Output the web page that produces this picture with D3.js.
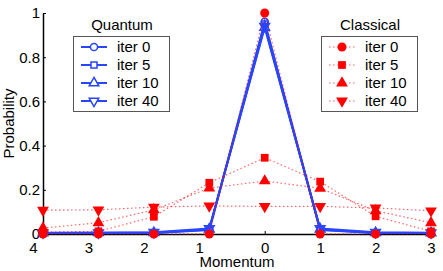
<!DOCTYPE html>
<html>
<head>
<meta charset="utf-8">
<script src="https://cdn.jsdelivr.net/npm/d3@7"></script>
<style>
  body { margin: 0; background: #fff; }
  text { font-family: "Liberation Sans", Arial, sans-serif; font-size: 15px; fill: #000; }
</style>
</head>
<body>
<svg id="chart" width="443" height="271"></svg>
<script>
// momentum values on the x axis
var momentum = [-4, -3, -2, -1, 0, 1, 2, 3];
var xTickLabels = ["4", "3", "2", "1", "0", "1", "2", "3"];
var yTicks = [0, 0.2, 0.4, 0.6, 0.8, 1];
var iterNames = ["iter 0", "iter 5", "iter 10", "iter 40"];

// quantum walk probabilities
var quantum0 = [0.004, 0.004, 0.004, 0.02, 0.96, 0.02, 0.004, 0.004];
var quantum5 = [0.004, 0.005, 0.005, 0.018, 0.95, 0.018, 0.005, 0.005];
var quantum10 = [0.005, 0.006, 0.006, 0.022, 0.935, 0.022, 0.006, 0.005];
var quantum40 = [0.006, 0.006, 0.008, 0.025, 0.94, 0.025, 0.008, 0.006];

// classical walk probabilities
var classical0 = [0, 0, 0, 0, 1, 0, 0, 0];
var classical5 = [0.008, 0.012, 0.078, 0.232, 0.345, 0.237, 0.08, 0.012];
var classical10 = [0.027, 0.051, 0.109, 0.208, 0.24, 0.207, 0.105, 0.051];
var classical40 = [0.108, 0.109, 0.122, 0.127, 0.125, 0.125, 0.118, 0.105];

var quantumSeries = [quantum0, quantum5, quantum10, quantum40];
var classicalSeries = [classical0, classical5, classical10, classical40];

var blue = "#2846ff";
var red = "#ff0000";

var svg = d3.select("#chart");

var x = d3.scaleLinear().domain([-4, 3]).range([43, 431]);
var y = d3.scaleLinear().domain([0, 1]).range([234, 13]);

// marker shapes: circle, square, triangle up, triangle down
var shapes = [
    { type: d3.symbolCircle, size: 64, rot: 0 },
    { type: d3.symbolSquare, size: 60, rot: 0 },
    { type: d3.symbolTriangle, size: 60, rot: 0 },
    { type: d3.symbolTriangle, size: 60, rot: 180 }
];
var openShapes = [
    { type: d3.symbolCircle, size: 40, rot: 0 },
    { type: d3.symbolSquare, size: 36, rot: 0 },
    { type: d3.symbolTriangle, size: 40, rot: 0 },
    { type: d3.symbolTriangle, size: 40, rot: 180 }
];

var line = d3.line()
    .x(function(d, i) { return x(momentum[i]); })
    .y(function(d) { return y(d); });

// axes
var xAxis = svg.append("g").attr("transform", "translate(0," + y(0) + ")")
    .call(d3.axisBottom(x).tickValues(momentum).tickSizeInner(-3).tickSizeOuter(0).tickFormat(function(d, i) { return xTickLabels[i]; }));
xAxis.select(".domain").attr("stroke", "#000").attr("stroke-width", 1.5);
xAxis.selectAll(".tick text")
    .attr("y", 8)
    .attr("dx", function(d) { return d < 0 ? -10 : 0; })
    .style("font-size", "15px");

var yAxis = svg.append("g").attr("transform", "translate(" + x(-4) + ",0)")
    .call(d3.axisLeft(y).tickValues(yTicks).tickSizeInner(-3).tickSizeOuter(0).tickFormat(d3.format("")));
yAxis.select(".domain").attr("stroke", "#000").attr("stroke-width", 1.5);
yAxis.selectAll(".tick text").attr("x", -3).style("font-size", "15px");
svg.selectAll(".tick line").attr("stroke", "#000");

svg.append("text").attr("x", (x(-4) + x(3)) / 2).attr("y", 267)
    .attr("text-anchor", "middle").text("Momentum");
svg.append("text").attr("transform", "translate(14," + (y(0) + y(1)) / 2 + ") rotate(-90)")
    .attr("text-anchor", "middle").text("Probability");

// quantum lines
quantumSeries.forEach(function(vals, k) {
    svg.append("path").datum(vals)
        .attr("d", line)
        .attr("fill", "none")
        .attr("stroke", blue)
        .attr("stroke-width", 2);
    svg.selectAll(".qm" + k).data(vals).join("path")
        .attr("class", "qm" + k)
        .attr("d", d3.symbol().type(openShapes[k].type).size(openShapes[k].size))
        .attr("transform", function(d, i) { return "translate(" + x(momentum[i]) + "," + y(d) + ") rotate(" + openShapes[k].rot + ")"; })
        .attr("fill", "none")
        .attr("stroke", blue)
        .attr("stroke-width", 1.5);
});

// classical lines
classicalSeries.forEach(function(vals, k) {
    svg.append("path").datum(vals)
        .attr("d", line)
        .attr("fill", "none")
        .attr("stroke", red)
        .attr("stroke-opacity", 0.6)
        .attr("stroke-width", 1.2)
        .attr("stroke-dasharray", "1.5,2.5");
    svg.selectAll(".cm" + k).data(vals).join("path")
        .attr("class", "cm" + k)
        .attr("d", d3.symbol().type(shapes[k].type).size(shapes[k].size))
        .attr("transform", function(d, i) { return "translate(" + x(momentum[i]) + "," + y(d) + ") rotate(" + shapes[k].rot + ")"; })
        .attr("fill", red);
});

// legends
function drawLegend(left, title, color, dashed, markerSet, filled) {
    var g = svg.append("g").attr("transform", "translate(" + left + ",36)");
    g.append("rect").attr("x", 0.5).attr("y", 0.5).attr("width", 96).attr("height", 75)
        .attr("fill", "#fff").attr("stroke", "#555").attr("stroke-width", 1);
    g.append("text").attr("x", 49).attr("y", -6).attr("text-anchor", "middle").text(title);
    iterNames.forEach(function(name, k) {
        var cy = 11 + k * 18;
        g.append("line").attr("x1", 8).attr("x2", 34).attr("y1", cy).attr("y2", cy)
            .attr("stroke", color)
            .attr("stroke-width", dashed ? 1.2 : 2)
            .attr("stroke-opacity", dashed ? 0.6 : 1)
            .attr("stroke-dasharray", dashed ? "1.5,2.5" : null);
        g.append("path")
            .attr("d", d3.symbol().type(markerSet[k].type).size(markerSet[k].size))
            .attr("transform", "translate(21," + cy + ") rotate(" + markerSet[k].rot + ")")
            .attr("fill", filled ? color : "#fff")
            .attr("stroke", filled ? "none" : color)
            .attr("stroke-width", 1.5);
        g.append("text").attr("x", 44).attr("y", cy + 5).text(name);
    });
}
drawLegend(73, "Quantum", blue, false, openShapes, false);
drawLegend(321, "Classical", red, true, shapes, true);
</script>
</body>
</html>
